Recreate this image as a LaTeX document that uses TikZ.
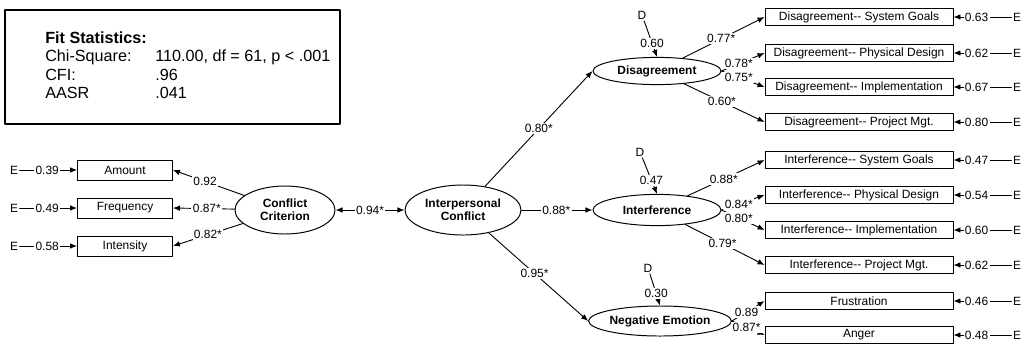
\documentclass[tikz,border=0pt]{standalone}
\usepackage{fontspec}
\setmainfont{Liberation Sans}
\usetikzlibrary{arrows.meta,shapes.geometric}

\begin{document}
\begin{tikzpicture}[x=0.025cm, y=-0.025cm, line cap=round, line join=round]
  \def\bw{4.7cm} % width of the right-hand indicator boxes
  \tikzset{
    lat_var/.style={ellipse, draw=black, line width=0.7pt, inner sep=0pt, align=center, font=\bfseries\fontsize{8.5pt}{9.5pt}\selectfont},
    obs_box/.style={rectangle, draw=black, line width=0.6pt, inner sep=0pt, font=\fontsize{8.5pt}{9pt}\selectfont},
    err_node/.style={inner sep=1pt, font=\fontsize{8.5pt}{10pt}\selectfont},
    coef/.style={fill=white, inner sep=1pt, font=\fontsize{8.5pt}{10pt}\selectfont},
    fit_text/.style={anchor=west, inner sep=0pt, font=\fontsize{11.5pt}{13pt}\selectfont},
    path_arr/.style={line width=0.65pt, -{Latex[length=5pt, width=4pt]}, draw=black},
    cov_arr/.style={line width=0.65pt, {Latex[length=5pt, width=4pt]}-{Latex[length=5pt, width=4pt]}, draw=black}
  }
  \useasboundingbox (0,0) rectangle (1025,344);

  % fit statistics
  \node[draw=black, line width=0.8pt, minimum width=8.375cm, minimum height=2.85cm] (fit) at (172.5,67) {};
  \node[fit_text, font=\bfseries\fontsize{11.5pt}{13pt}\selectfont] (fit_title) at (45,38) {Fit Statistics:};
  \node[fit_text] (fit_chi) at (45,57) {Chi-Square:};
  \node[fit_text] (fit_chi_val) at (155,57) {110.00, df = 61, p < .001};
  \node[fit_text] (fit_cfi) at (45,75) {CFI:};
  \node[fit_text] (fit_cfi_val) at (155,75) {.96};
  \node[fit_text] (fit_aasr) at (45,93) {AASR};
  \node[fit_text] (fit_aasr_val) at (155,93) {.041};

  % latent variables
  \node[lat_var, minimum width=2.5cm, minimum height=1.2cm] (crit) at (285,210) {Conflict\\Criterion};
  \node[lat_var, minimum width=2.9cm, minimum height=1.25cm] (inter) at (463,210) {Interpersonal\\Conflict};
  \node[lat_var, minimum width=3.2cm, minimum height=0.68cm] (disag) at (657,71) {Disagreement};
  \node[lat_var, minimum width=3.2cm, minimum height=0.78cm] (interf) at (657,210) {Interference};
  \node[lat_var, minimum width=3.1cm, minimum height=0.75cm] (neg) at (660,321) {Negative Emotion};

  % criterion indicators
  \node[obs_box, minimum width=2.375cm, minimum height=0.5cm] (amount) at (125,170) {Amount};
  \node[obs_box, minimum width=2.375cm, minimum height=0.5cm] (frequency) at (125,208) {Frequency};
  \node[obs_box, minimum width=2.375cm, minimum height=0.5cm] (intensity) at (125,246) {Intensity};
  \node[err_node] (e_amount) at (14,170) {E};
  \node[err_node] (e_frequency) at (14,208) {E};
  \node[err_node] (e_intensity) at (14,246) {E};
  \draw[path_arr] (e_amount) -- node[coef, pos=0.48] {0.39} (amount);
  \draw[path_arr] (e_frequency) -- node[coef, pos=0.48] {0.49} (frequency);
  \draw[path_arr] (e_intensity) -- node[coef, pos=0.48] {0.58} (intensity);
  \draw[path_arr] (crit) -- node[coef, pos=0.55] {0.92} (amount.east);
  \draw[path_arr] (crit) -- node[coef, pos=0.45] {0.87*} (frequency.east);
  \draw[path_arr] (crit) -- node[coef, pos=0.5] {0.82*} (intensity.east);

  % structural paths
  \draw[cov_arr] (crit) -- node[coef] {0.94*} (inter);
  \draw[path_arr] (inter) -- node[coef, pos=0.5] {0.80*} (disag.west);
  \draw[path_arr] (inter) -- node[coef, pos=0.49] {0.88*} (interf);
  \draw[path_arr] (inter) -- node[coef, pos=0.46] {0.95*} (neg.west);

  % disturbances
  \node[err_node] (d_disag) at (642,15) {D};
  \node[err_node] (d_interf) at (640,152) {D};
  \node[err_node] (d_neg) at (648,268) {D};
  \draw[path_arr] (d_disag) -- node[coef, pos=0.62] {0.60} (disag.north);
  \draw[path_arr] (d_interf) -- node[coef, pos=0.62] {0.47} (interf.north);
  \draw[path_arr] (d_neg) -- node[coef, pos=0.62] {0.30} (neg.north);

  % right-hand indicators
  \node[obs_box, minimum width=\bw, minimum height=0.43cm] (dis_goals) at (859,17) {Disagreement{-}{-} System Goals};
  \node[obs_box, minimum width=\bw, minimum height=0.43cm] (dis_design) at (859,53) {Disagreement{-}{-} Physical Design};
  \node[obs_box, minimum width=\bw, minimum height=0.43cm] (dis_impl) at (859,87) {Disagreement{-}{-} Implementation};
  \node[obs_box, minimum width=\bw, minimum height=0.43cm] (dis_mgt) at (859,122) {Disagreement{-}{-} Project Mgt.};
  \node[obs_box, minimum width=\bw, minimum height=0.43cm] (int_goals) at (859,160) {Interference{-}{-} System Goals};
  \node[obs_box, minimum width=\bw, minimum height=0.43cm] (int_design) at (859,195) {Interference{-}{-} Physical Design};
  \node[obs_box, minimum width=\bw, minimum height=0.43cm] (int_impl) at (859,230) {Interference{-}{-} Implementation};
  \node[obs_box, minimum width=\bw, minimum height=0.43cm] (int_mgt) at (859,265) {Interference{-}{-} Project Mgt.};
  \node[obs_box, minimum width=\bw, minimum height=0.43cm] (frust) at (859,301) {Frustration};
  \node[obs_box, minimum width=\bw, minimum height=0.43cm] (anger) at (859,335) {Anger};

  \draw[path_arr] (disag) -- node[coef, pos=0.47] {0.77*} (dis_goals.west);
  \draw[path_arr] (disag.east) -- node[coef, pos=0.4] {0.78*} (dis_design.west);
  \draw[path_arr] (disag.east) -- node[coef, pos=0.4] {0.75*} (dis_impl.west);
  \draw[path_arr] (disag) -- node[coef, pos=0.47] {0.60*} (dis_mgt.west);
  \draw[path_arr] (interf) -- node[coef, pos=0.47] {0.88*} (int_goals.west);
  \draw[path_arr] (interf.east) -- node[coef, pos=0.4] {0.84*} (int_design.west);
  \draw[path_arr] (interf.east) -- node[coef, pos=0.4] {0.80*} (int_impl.west);
  \draw[path_arr] (interf) -- node[coef, pos=0.47] {0.79*} (int_mgt.west);
  \draw[path_arr] (neg.east) -- node[coef, pos=0.45] {0.89} (frust.west);
  \draw[path_arr] (neg.east) -- node[coef, pos=0.45] {0.87*} (anger.west);

  % residuals
  \node[err_node] (e_dis_goals) at (1017,17) {E};
  \node[err_node] (e_dis_design) at (1017,53) {E};
  \node[err_node] (e_dis_impl) at (1017,87) {E};
  \node[err_node] (e_dis_mgt) at (1017,122) {E};
  \node[err_node] (e_int_goals) at (1017,160) {E};
  \node[err_node] (e_int_design) at (1017,195) {E};
  \node[err_node] (e_int_impl) at (1017,230) {E};
  \node[err_node] (e_int_mgt) at (1017,265) {E};
  \node[err_node] (e_frust) at (1017,301) {E};
  \node[err_node] (e_anger) at (1017,335) {E};
  \draw[path_arr] (e_dis_goals) -- node[coef, pos=0.6] {0.63} (dis_goals);
  \draw[path_arr] (e_dis_design) -- node[coef, pos=0.6] {0.62} (dis_design);
  \draw[path_arr] (e_dis_impl) -- node[coef, pos=0.6] {0.67} (dis_impl);
  \draw[path_arr] (e_dis_mgt) -- node[coef, pos=0.6] {0.80} (dis_mgt);
  \draw[path_arr] (e_int_goals) -- node[coef, pos=0.6] {0.47} (int_goals);
  \draw[path_arr] (e_int_design) -- node[coef, pos=0.6] {0.54} (int_design);
  \draw[path_arr] (e_int_impl) -- node[coef, pos=0.6] {0.60} (int_impl);
  \draw[path_arr] (e_int_mgt) -- node[coef, pos=0.6] {0.62} (int_mgt);
  \draw[path_arr] (e_frust) -- node[coef, pos=0.6] {0.46} (frust);
  \draw[path_arr] (e_anger) -- node[coef, pos=0.6] {0.48} (anger);
\end{tikzpicture}
\end{document}
